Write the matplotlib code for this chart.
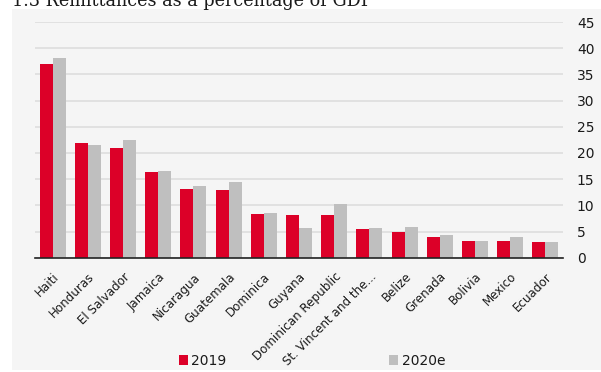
import numpy as np
import matplotlib.pyplot as plt
from matplotlib.patches import Rectangle, Patch

countries = ["Haiti", "Honduras", "El Salvador", "Jamaica", "Nicaragua",
             "Guatemala", "Dominica", "Guyana", "Dominican Republic",
             "St. Vincent and the...", "Belize", "Grenada", "Bolivia",
             "Mexico", "Ecuador"]
y2019 = [37.0, 22.0, 21.0, 16.4, 13.2, 13.0, 8.3, 8.1, 8.1, 5.5, 5.0, 3.9, 3.2, 3.1, 3.0]
y2020 = [38.1, 21.5, 22.5, 16.6, 13.7, 14.4, 8.5, 5.6, 10.2, 5.6, 5.9, 4.3, 3.2, 3.9, 3.0]
yticks = [0, 5, 10, 15, 20, 25, 30, 35, 40, 45]

red = "#dc0028"
grey = "#bfbfbf"
panel = "#f5f5f5"

fig = plt.figure(figsize=(6.01, 3.72), dpi=100)
fig.patch.set_facecolor("white")

# light grey panel behind the chart
fig.patches.append(Rectangle((12 / 601, 1 - 370 / 372), 1, (370 - 9) / 372,
                             transform=fig.transFigure, facecolor=panel,
                             edgecolor="none", zorder=-10))

fig.text(12 / 601, 1 - 5.6 / 372, "1.3 Remittances as a percentage of GDP",
         family="DejaVu Serif", fontsize=12.7, color="#1a1a1a",
         ha="left", va="baseline")

ax = fig.add_axes([35 / 601, 1 - 257.7 / 372, (563 - 35) / 601, (257.7 - 22.1) / 372])
ax.set_facecolor(panel)

x = np.arange(len(countries))
w = 0.37
ax.bar(x - w / 2, y2019, w, color=red, zorder=3)
ax.bar(x + w / 2, y2020, w, color=grey, zorder=3)

ax.set_xlim(-0.5, len(countries) - 0.5)
ax.set_ylim(0, 45)
ax.set_yticks(yticks)
ax.yaxis.tick_right()
ax.tick_params(axis="y", length=0, pad=10, labelsize=10, labelcolor="#1a1a1a")
ax.tick_params(axis="x", length=0, pad=9, labelsize=8.6, labelcolor="#1a1a1a")
ax.set_xticks(x)
ax.set_xticklabels(countries, rotation=45, ha="right", rotation_mode="anchor")

ax.grid(axis="y", color="#dcdcdc", linewidth=1.1, zorder=0)
for s in ["top", "left", "right"]:
    ax.spines[s].set_visible(False)
ax.spines["bottom"].set_color("#222222")
ax.spines["bottom"].set_linewidth(1.2)
ax.spines["bottom"].set_zorder(4)

handles = [Patch(facecolor=red, label="2019"), Patch(facecolor=grey, label="2020e")]
fig.legend(handles=handles, loc="center", bbox_to_anchor=(312 / 601, 1 - 361 / 372),
           ncol=2, frameon=False, fontsize=10, handlelength=0.65, handleheight=0.65,
           handletextpad=0.25, columnspacing=11.7, labelcolor="#1a1a1a")

fig.savefig("out.png", dpi=100, facecolor="white")
